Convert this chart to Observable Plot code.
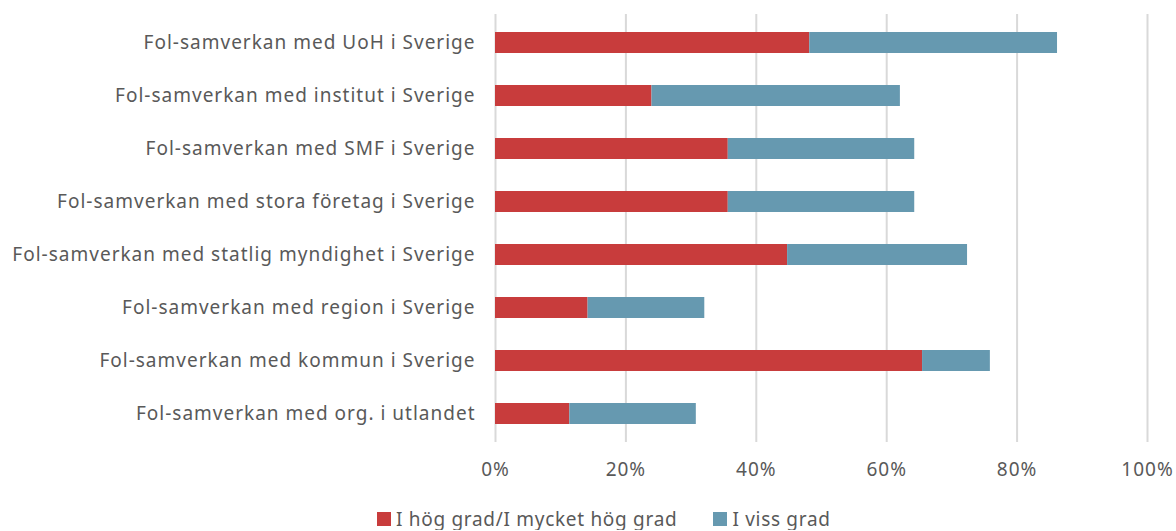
<!DOCTYPE html>
<html>
<head>
<meta charset="utf-8">
<script src="https://cdn.jsdelivr.net/npm/d3@7"></script>
<script src="https://cdn.jsdelivr.net/npm/@observablehq/plot@0.6"></script>
<style>
  html, body { margin: 0; padding: 0; background: #fff; overflow: hidden; }
  #legend { display: flex; gap: 0; margin-left: 377px; margin-top: 14px;
    font-family: "Noto Sans", sans-serif; font-size: 19px; color: #595959; line-height: 22px; letter-spacing: 0.7px; }
  #legend .item { display: flex; align-items: center; }
  #legend .item + .item { margin-left: 36px; }
  #legend span.sw { display: inline-block; width: 14px; height: 14px; margin-right: 5px; }
</style>
</head>
<body>
<div id="chart"></div>
<div id="legend"></div>
<script>
const categories = [
  "Fol-samverkan med UoH i Sverige",
  "Fol-samverkan med institut i Sverige",
  "Fol-samverkan med SMF i Sverige",
  "Fol-samverkan med stora företag i Sverige",
  "Fol-samverkan med statlig myndighet i Sverige",
  "Fol-samverkan med region i Sverige",
  "Fol-samverkan med kommun i Sverige",
  "Fol-samverkan med org. i utlandet"
];
const seriesNames = ["I hög grad/I mycket hög grad", "I viss grad"];
const highValues = [0.482, 0.240, 0.357, 0.357, 0.448, 0.142, 0.655, 0.114];
const someValues = [0.380, 0.381, 0.286, 0.286, 0.276, 0.179, 0.104, 0.194];
const xTicks = [0, 0.2, 0.4, 0.6, 0.8, 1.0];
const colors = ["#C83C3C", "#6699B0"];

const rows = [];
categories.forEach((c, i) => {
  rows.push({category: c, series: seriesNames[0], value: highValues[i]});
  rows.push({category: c, series: seriesNames[1], value: someValues[i]});
});

const font = '"Noto Sans", sans-serif';
const chart = Plot.plot({
  width: 1176,
  height: 494,
  marginLeft: 495,
  marginRight: 29,
  marginTop: 14,
  marginBottom: 52,
  style: {fontFamily: font, fontSize: "19px", color: "#595959", background: "#fff", letterSpacing: "1px"},
  x: {domain: [0, 1], ticks: xTicks, tickFormat: d => Math.round(d * 100) + "%", tickSize: 0, tickPadding: 20, label: null},
  y: {domain: categories, paddingInner: 0.6, paddingOuter: 0.3, tickSize: 0, tickPadding: 20, label: null},
  color: {domain: seriesNames, range: colors},
  marks: [
    Plot.gridX(xTicks, {stroke: "#d9d9d9", strokeOpacity: 1, strokeWidth: 2}),
    Plot.barX(rows, Plot.stackX({x: "value", y: "category", fill: "series", order: seriesNames}))
  ]
});
document.getElementById("chart").appendChild(chart);

const legend = document.getElementById("legend");
seriesNames.forEach((s, i) => {
  const item = document.createElement("div");
  item.className = "item";
  const sw = document.createElement("span");
  sw.className = "sw";
  sw.style.background = colors[i];
  item.appendChild(sw);
  item.appendChild(document.createTextNode(s));
  legend.appendChild(item);
});
</script>
</body>
</html>
